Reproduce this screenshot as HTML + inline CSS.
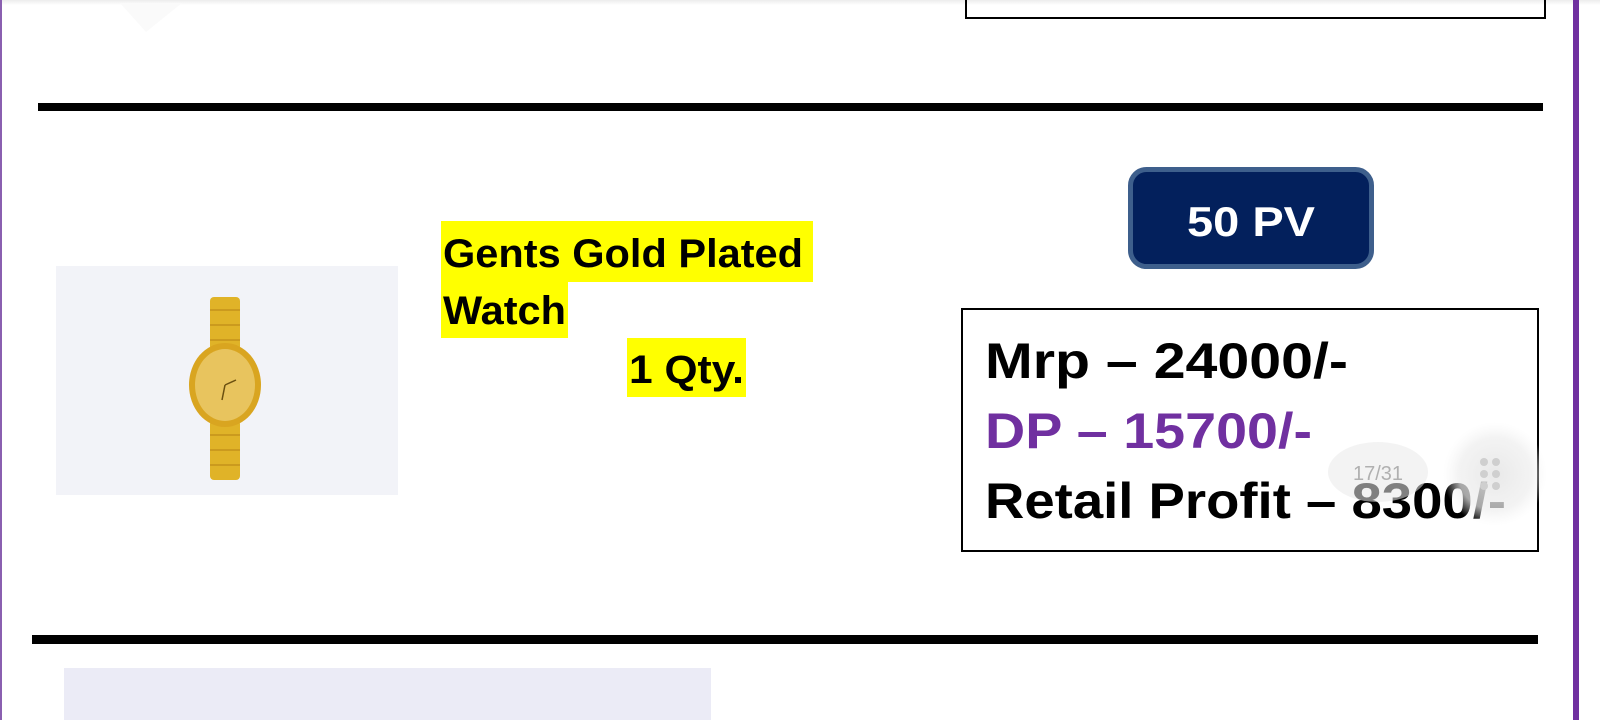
<!DOCTYPE html>
<html><head><meta charset="utf-8"><style>
html,body{margin:0;padding:0;background:#fff;width:1600px;height:720px;overflow:hidden}
svg{display:block}
text{font-family:"Liberation Sans",sans-serif;font-weight:bold}
</style></head><body>
<svg width="1600" height="720" viewBox="0 0 1600 720" xmlns="http://www.w3.org/2000/svg">
<defs>
<radialGradient id="g1"><stop offset="0" stop-color="#e6e6e6" stop-opacity="0.9"/><stop offset="0.7" stop-color="#eeeeee" stop-opacity="0.7"/><stop offset="1" stop-color="#f4f4f4" stop-opacity="0"/></radialGradient>
<linearGradient id="tb" x1="0" y1="0" x2="0" y2="1"><stop offset="0" stop-color="#ececec"/><stop offset="1" stop-color="#ffffff"/></linearGradient>
</defs>
<rect x="0" y="0" width="1600" height="5" fill="url(#tb)"/>
<rect x="0" y="0" width="2" height="720" fill="#8a5fb0"/>
<rect x="1573" y="0" width="6" height="720" fill="#7030a0"/>
<path d="M120 3 L146 32 L182 3 Z" fill="#fafafa"/>
<!-- top box remnant -->
<rect x="966" y="-10" width="579" height="28" fill="none" stroke="#000" stroke-width="2"/>
<!-- lines -->
<rect x="38" y="103" width="1505" height="8" fill="#000"/>
<rect x="32" y="635" width="1506" height="9" fill="#000"/>
<!-- watch image -->
<rect x="56" y="266" width="342" height="229" fill="#f2f3f8"/>
<g>
<rect x="210" y="297" width="30" height="75" rx="4" fill="#e0b328"/>
<rect x="210" y="420" width="30" height="60" rx="4" fill="#e0b328"/>
<g stroke="#c4911a" stroke-width="1.5">
<line x1="210" y1="310" x2="240" y2="310"/><line x1="210" y1="325" x2="240" y2="325"/><line x1="210" y1="340" x2="240" y2="340"/><line x1="210" y1="355" x2="240" y2="355"/>
<line x1="210" y1="435" x2="240" y2="435"/><line x1="210" y1="450" x2="240" y2="450"/><line x1="210" y1="465" x2="240" y2="465"/>
</g>
<ellipse cx="225" cy="385" rx="36" ry="42" fill="#d9a520"/>
<ellipse cx="225" cy="385" rx="30" ry="36" fill="#e8c45e"/>
<line x1="225" y1="385" x2="222" y2="400" stroke="#6b5010" stroke-width="1.5"/>
<line x1="225" y1="385" x2="236" y2="380" stroke="#6b5010" stroke-width="1.5"/>
</g>
<!-- title -->
<rect x="441" y="221" width="372" height="61" fill="#ffff00"/>
<rect x="441" y="282" width="127" height="56" fill="#ffff00"/>
<rect x="627" y="338" width="119" height="59" fill="#ffff00"/>
<text x="443" y="267" font-size="40" textLength="360" lengthAdjust="spacingAndGlyphs">Gents Gold Plated</text>
<text x="443" y="324" font-size="40" textLength="123" lengthAdjust="spacingAndGlyphs">Watch</text>
<text x="629" y="383" font-size="40" textLength="115" lengthAdjust="spacingAndGlyphs">1 Qty.</text>
<!-- PV button -->
<rect x="1130.5" y="169.5" width="241" height="97" rx="16" fill="#03205c" stroke="#3e5f8c" stroke-width="5"/>
<text x="1251" y="236" font-size="42" fill="#fff" text-anchor="middle" textLength="128" lengthAdjust="spacingAndGlyphs">50 PV</text>
<!-- price box -->
<rect x="962" y="309" width="576" height="242" fill="#fff" stroke="#000" stroke-width="2"/>
<text x="985" y="378" font-size="50" textLength="363" lengthAdjust="spacingAndGlyphs">Mrp – 24000/-</text>
<text x="985" y="448" font-size="50" fill="#7030a0" textLength="327" lengthAdjust="spacingAndGlyphs">DP – 15700/-</text>
<text x="985" y="518" font-size="50" textLength="521" lengthAdjust="spacingAndGlyphs">Retail Profit – 8300/-</text>
<!-- overlay -->
<ellipse cx="1378" cy="472" rx="50" ry="30" fill="#e9e9e9" fill-opacity="0.55"/>
<text x="1378" y="480" font-size="20" style="font-weight:normal" fill="#b0b0b0" text-anchor="middle">17/31</text>
<circle cx="1495" cy="474" r="52" fill="url(#g1)"/>
<g fill="#cfcfcf"><circle cx="1484" cy="462" r="4"/><circle cx="1496" cy="462" r="4"/><circle cx="1484" cy="474" r="4"/><circle cx="1496" cy="474" r="4"/><circle cx="1484" cy="486" r="4"/><circle cx="1496" cy="486" r="4"/></g>
<!-- bottom image -->
<rect x="64" y="668" width="647" height="60" fill="#ebebf6"/>
</svg>
</body></html>
